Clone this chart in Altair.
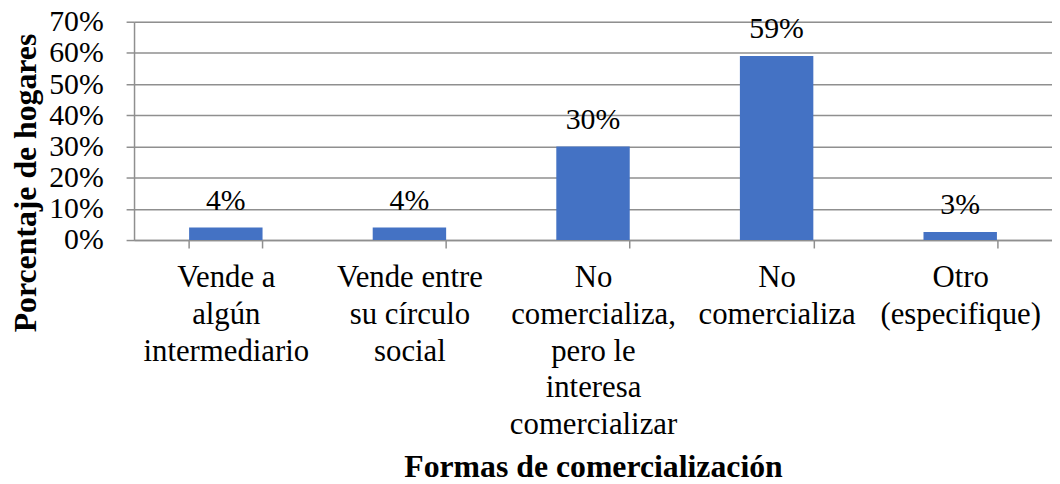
import altair as alt
import pandas as pd

categories = [
    "Vende a\nalgún\nintermediario",
    "Vende entre\nsu círculo\nsocial",
    "No\ncomercializa,\npero le\ninteresa\ncomercializar",
    "No\ncomercializa",
    "Otro\n(especifique)",
]
values = [0.04, 0.04, 0.30, 0.59, 0.026]
y_ticks = [0, 0.1, 0.2, 0.3, 0.4, 0.5, 0.6, 0.7]

df = pd.DataFrame({"cat": categories, "val": values})

FONT = "Liberation Serif"
GRID = "#8f8f8f"

x_enc = alt.X(
    "cat:N",
    sort=None,
    scale=alt.Scale(paddingInner=0.6, paddingOuter=0.3),
    axis=alt.Axis(
        title="Formas de comercialización",
        titleFont=FONT, titleFontSize=32, titleFontWeight="bold", titleColor="black",
        titleX=462.5, titleY=238, titleBaseline="alphabetic", titleAlign="center",
        labelFont=FONT, labelFontSize=31, labelColor="black",
        labelExpr="split(datum.label, '\\n')",
        labelLineHeight=37, labelAngle=0, labelBaseline="alphabetic",
        labelPadding=39, labelLimit=0,
        tickBand="extent", tickSize=8, tickColor=GRID, tickWidth=1.5,
        domainColor=GRID, domainWidth=1.5, grid=False,
    ),
)

y_enc = alt.Y(
    "val:Q",
    scale=alt.Scale(domain=[0, 0.7], nice=False),
    axis=alt.Axis(
        title="Porcentaje de hogares",
        titleFont=FONT, titleFontSize=32, titleFontWeight="bold", titleColor="black",
        titleAngle=270, titleX=-99, titleY=162, titleBaseline="alphabetic", titleAlign="center",
        values=y_ticks, format=".0%", labelOverlap=False,
        labelFont=FONT, labelFontSize=30, labelColor="black",
        labelPadding=23, labelBaseline="middle",
        tickSize=8, tickColor=GRID, tickWidth=1.5,
        domainColor=GRID, domainWidth=1.5,
        grid=True, gridColor=GRID, gridWidth=1.5,
    ),
)

base = alt.Chart(df)
bars = base.mark_bar(color="#4472C4").encode(x=x_enc, y=y_enc)
labels = base.mark_text(
    font=FONT, fontSize=30, color="black", baseline="alphabetic", dy=-18
).encode(x=x_enc, y=y_enc, text=alt.Text("val:Q", format=".0%"))

chart = (
    alt.layer(bars, labels)
    .properties(
        width=925,
        height=220,
        autosize=alt.AutoSizeParams(type="none"),
        padding={"left": 127, "top": 12, "right": 0, "bottom": 244},
    )
    .configure_view(stroke=None)
    .configure(background="white", font=FONT)
)

chart.save("out.html", embed_options={"renderer": "svg", "actions": False})
